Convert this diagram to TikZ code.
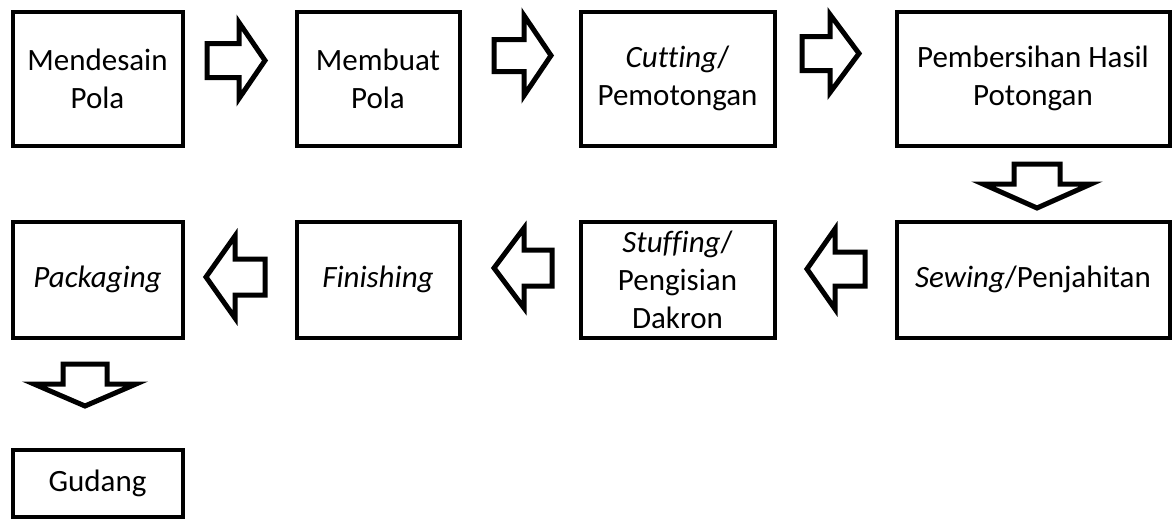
\documentclass[tikz,border=0pt]{standalone}
\usepackage{fontspec}
\setmainfont{Carlito}[Ligatures={NoCommon}]
\begin{document}
\begin{tikzpicture}[x=1pt,y=-1pt,
  box/.style={draw, line width=4pt, inner sep=0pt, align=center,
    font=\fontsize{31}{38}\selectfont},
  blk/.style={draw, line width=5pt, line join=miter, fill=white}]
\useasboundingbox (0,0) rectangle (1173,520);
% row 1
\node[box, minimum width=170pt, minimum height=134pt] (b1) at (97.5,78.5) {Mendesain\\Pola};
\node[box, minimum width=163pt, minimum height=134pt] (b2) at (378,78.5) {Membuat\\Pola};
\node[box, minimum width=194pt, minimum height=134pt] (b3) at (677.5,78.5) {\textit{Cutting}/\\Pemotongan};
\node[box, minimum width=273pt, minimum height=134pt] (b4) at (1033,78.5) {Pembersihan Hasil\\Potongan};
% row 2
\node[box, minimum width=273pt, minimum height=116pt] (b5) at (1033,279.5) {\textit{Sewing}/Penjahitan};
\node[box, minimum width=194pt, minimum height=116pt] (b6) at (677.5,279.5) {\textit{Stuffing}/\\Pengisian\\Dakron};
\node[box, minimum width=163pt, minimum height=116pt] (b7) at (378,279.5) {\textit{Finishing}};
\node[box, minimum width=170pt, minimum height=116pt] (b8) at (97.5,279.5) {\textit{Packaging}};
% row 3
\node[box, minimum width=170pt, minimum height=67pt] (b9) at (97.5,483) {Gudang};
% block arrows
\newcommand{\blockR}[6]{\draw[blk] (#1,#4-#5) -- (#2,#4-#5) -- (#2,#4-#6) -- (#3,#4) -- (#2,#4+#6) -- (#2,#4+#5) -- (#1,#4+#5) -- cycle;}
\newcommand{\blockD}[6]{\draw[blk] (#4-#5,#1) -- (#4-#5,#2) -- (#4-#6,#2) -- (#4,#3) -- (#4+#6,#2) -- (#4+#5,#2) -- (#4+#5,#1) -- cycle;}
\blockR{207}{239}{265}{60.5}{17}{38}
\blockR{494}{524}{551}{55.5}{16}{40}
\blockR{802}{830}{859}{53.5}{17}{39}
\blockD{164}{184}{208}{1037}{23}{54}
\blockR{865}{835}{807}{269}{17}{40}
\blockR{552}{524}{494}{268}{18}{40}
\blockR{265}{235}{206}{277}{18}{41}
\blockD{364}{384}{406}{85}{22}{51}
\end{tikzpicture}
\end{document}
